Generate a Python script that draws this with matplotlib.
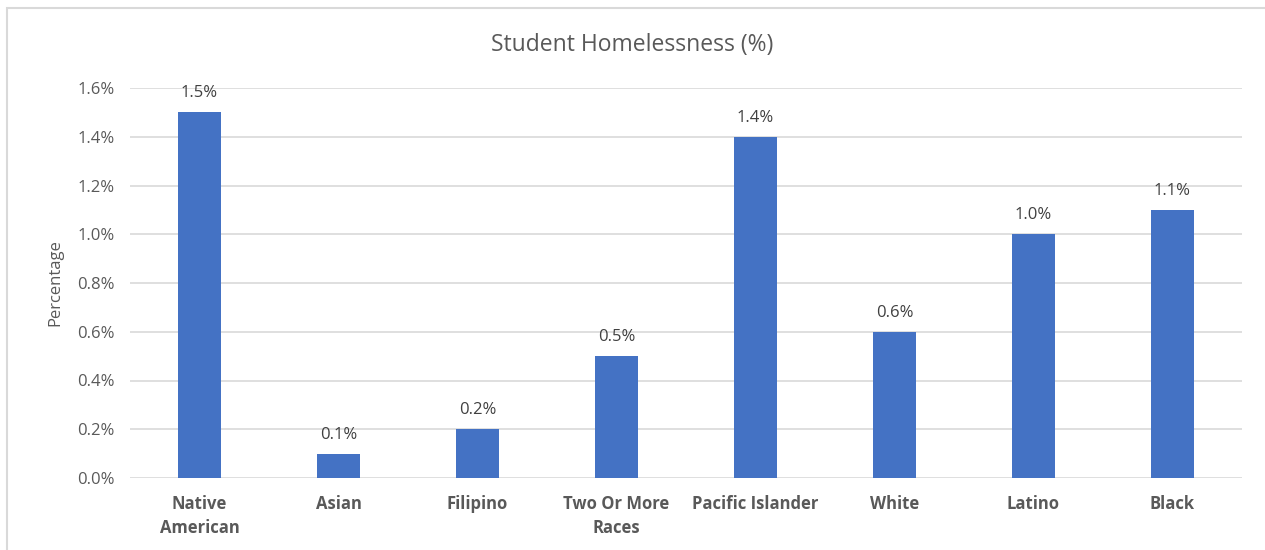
import matplotlib
matplotlib.use("Agg")
import matplotlib.pyplot as plt
from matplotlib.patches import Rectangle
from matplotlib.ticker import FuncFormatter

# data
groups = ["Native\nAmerican", "Asian", "Filipino", "Two Or More\nRaces",
          "Pacific Islander", "White", "Latino", "Black"]
rates = [1.5, 0.1, 0.2, 0.5, 1.4, 0.6, 1.0, 1.1]
yticks = [0.0, 0.2, 0.4, 0.6, 0.8, 1.0, 1.2, 1.4, 1.6]

plt.rcParams["font.family"] = ["Open Sans", "DejaVu Sans"]

fig = plt.figure(figsize=(12.65, 5.5), dpi=100)
ax = fig.add_axes([130 / 1265, 1 - 478 / 550, 1112 / 1265, 390 / 550])

# light frame round the chart area
fig.patches.append(Rectangle((7 / 1265, -0.01), 1.0, 1 - 8 / 550 + 0.01,
                             transform=fig.transFigure, fill=False,
                             edgecolor="#d9d9d9", linewidth=1.5))

x = range(len(groups))
bars = ax.bar(x, rates, width=0.31, color="#4472C4", zorder=3)

for xi, v in zip(x, rates):
    ax.text(xi, v + 0.045, f"{v:.1f}%", ha="center", va="bottom",
            fontsize=12, color="#404040")

ax.set_xlim(-0.5, len(groups) - 0.5)
ax.set_ylim(0, 1.6)
ax.set_yticks(yticks)
ax.yaxis.set_major_formatter(FuncFormatter(lambda v, p: f"{v:.1f}%"))
ax.grid(axis="y", color="#d9d9d9", linewidth=1.2, zorder=0)
for s in ax.spines.values():
    s.set_visible(False)
ax.tick_params(axis="both", length=0)
ax.tick_params(axis="y", labelsize=12, labelcolor="#595959", pad=11)
ax.set_xticks(list(x))
ax.set_xticklabels(groups, fontsize=12, fontweight="bold", color="#595959",
                   linespacing=1.45)
ax.tick_params(axis="x", pad=12)

ax.set_ylabel("Percentage", fontsize=12, color="#595959", labelpad=10)
fig.text(632 / 1265, 1 - 45 / 550, "Student Homelessness (%)", ha="center",
         va="center", fontsize=16.5, color="#595959")

fig.savefig("out.png", dpi=100)
